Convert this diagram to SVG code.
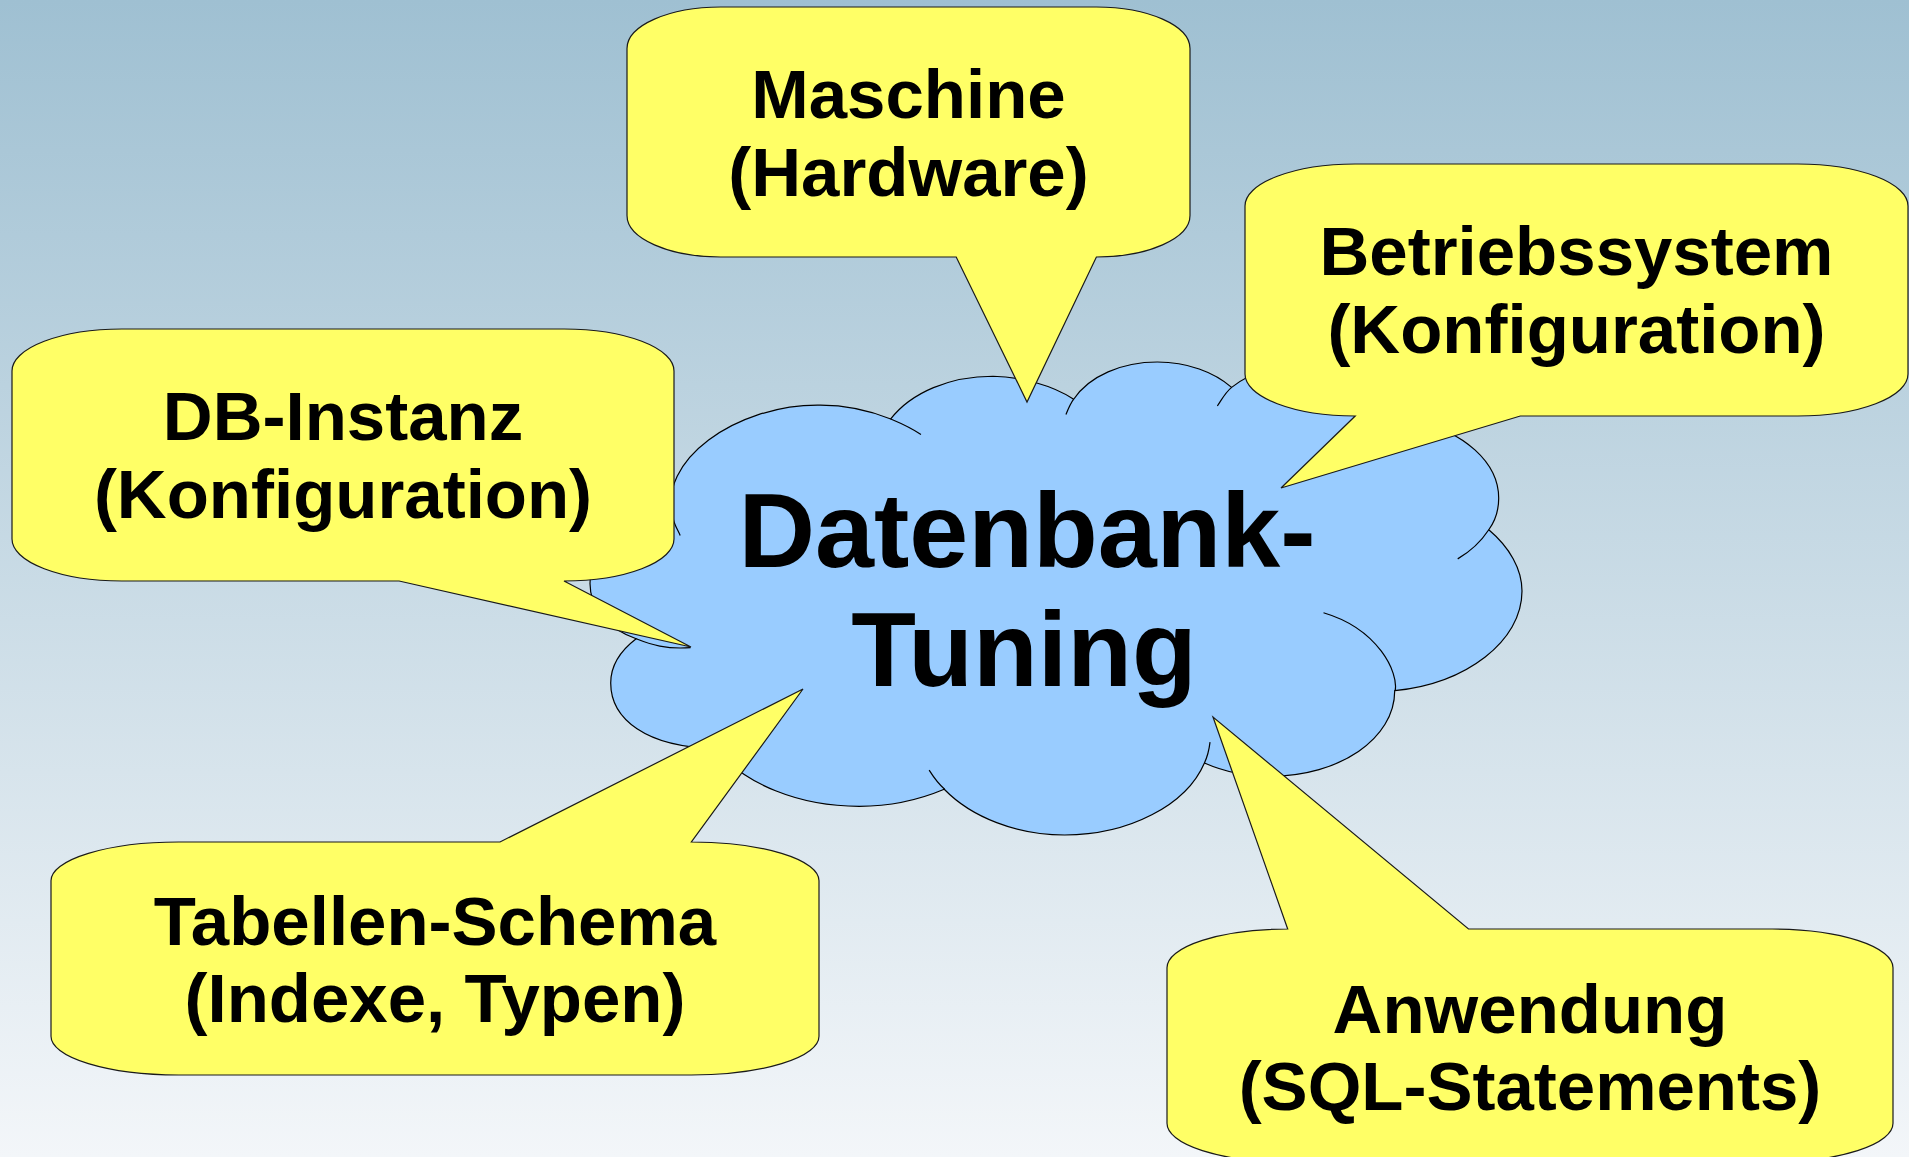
<svg xmlns="http://www.w3.org/2000/svg" width="1909" height="1157" viewBox="0 0 1909 1157">
  <defs>
    <linearGradient id="bg" x1="0" y1="0" x2="0" y2="1">
      <stop offset="0" stop-color="#9fc0d2"/>
      <stop offset="1" stop-color="#f3f6f9"/>
    </linearGradient>
    <style>
      .callout { fill: #ffff66; stroke: #1a1a1a; stroke-width: 1.2; stroke-linejoin: miter; }
      .cloud { fill: #99ccff; stroke: #000; stroke-width: 1.2; vector-effect: non-scaling-stroke; }
      .inner { fill: none; stroke: #000; stroke-width: 1.2; vector-effect: non-scaling-stroke; }
      .lbl { font-family: "Liberation Sans", Arial, sans-serif; font-weight: bold; font-size: 69px; fill: #000; text-anchor: middle; }
      .big { font-family: "Liberation Sans", Arial, sans-serif; font-weight: bold; font-size: 106px; fill: #000; text-anchor: middle; }
    </style>
  </defs>
  <rect x="0" y="0" width="1909" height="1157" fill="url(#bg)"/>

  <g id="cloud">
    <g transform="translate(590,362) scale(0.0431481,0.0218981)">
      <path class="cloud" d="M1930,7160 C1530,4490 3400,1970 5270,1970 C5860,1950 6470,2210 6970,2600 C7450,1390 8340,650 9340,650 C10004,690 10710,1050 11210,1700 C11570,630 12330,0 13150,0 C13840,0 14470,460 14870,1160 C15330,440 16020,0 16740,0 C17910,0 18900,1130 19110,2710 C20240,3150 21060,4580 21060,6220 C21060,6720 21000,7200 20830,7660 C21310,8460 21600,9450 21600,10460 C21600,12750 20310,14680 18650,15010 C18650,17200 17370,18920 15770,18920 C15220,18920 14700,18710 14240,18310 C13820,20240 12490,21600 11000,21600 C9890,21600 8840,20790 8210,19510 C7620,20000 6960,20290 6240,20290 C4850,20290 3570,19280 2900,17640 C1300,17600 480,16300 480,14660 C480,13900 690,13210 1070,12640 C380,12160 0,11210 0,10120 C0,8590 840,7330 1930,7160 Z"/>
      <path class="inner" d="M1930,7160 C1950,7410 2040,7690 2090,7920 M6970,2600 C7200,2790 7480,3050 7670,3310 M11210,1700 C11130,1910 11080,2160 11030,2400 M14870,1160 C14720,1400 14640,1720 14540,2010 M19110,2710 C19130,2890 19230,3290 19190,3380 M20830,7660 C20660,8170 20430,8620 20110,8990 M18660,15010 C18740,14200 18280,12200 17000,11450 M14240,18310 C14320,17980 14350,17680 14370,17360 M8220,19510 C8060,19250 7960,18950 7860,18640 M2900,17640 C3090,17600 3280,17540 3460,17450 M1070,12640 C1400,12900 1780,13130 2330,13040"/>
    </g>
    <text class="big" x="1027" y="567">Datenbank-</text>
    <text class="big" x="1024" y="686">Tuning</text>
  </g>

  <g id="connectors"></g>

  <g id="maschine">
    <path class="callout" d="M720.6,7 H1096.4 A93.6 41.5 0 0 1 1190,48.5 V215.5 A93.6 41.5 0 0 1 1096.4,257 L1027,402 L956.2,257 H720.6 A93.6 41.5 0 0 1 627,215.5 V48.5 A93.6 41.5 0 0 1 720.6,7 Z"/>
    <text class="lbl" x="908.5" y="118">Maschine</text>
    <text class="lbl" x="908.5" y="196">(Hardware)</text>
  </g>

  <g id="betriebssystem">
    <path class="callout" d="M1355.2,164 H1797.8 A110.2 41.9 0 0 1 1908,205.9 V374.1 A110.2 41.9 0 0 1 1797.8,416 H1520.3 L1281,488 L1355.2,416 A110.2 41.9 0 0 1 1245,374.1 V205.9 A110.2 41.9 0 0 1 1355.2,164 Z"/>
    <text class="lbl" x="1576.5" y="275">Betriebssystem</text>
    <text class="lbl" x="1576.5" y="353">(Konfiguration)</text>
  </g>

  <g id="db-instanz">
    <path class="callout" d="M122,329 H564 A110 41.9 0 0 1 674,370.9 V539.1 A110 41.9 0 0 1 564,581 L691,647 L399.1,581 H122 A110 41.9 0 0 1 12,539.1 V370.9 A110 41.9 0 0 1 122,329 Z"/>
    <text class="lbl" x="343" y="440">DB-Instanz</text>
    <text class="lbl" x="343" y="518">(Konfiguration)</text>
  </g>

  <g id="tabellen-schema">
    <path class="callout" d="M178.6,842 H500 L803,689 L691.4,842 A127.6 38.7 0 0 1 819,880.7 V1036.3 A127.6 38.7 0 0 1 691.4,1075 H178.6 A127.6 38.7 0 0 1 51,1036.3 V880.7 A127.6 38.7 0 0 1 178.6,842 Z"/>
    <text class="lbl" x="435" y="945">Tabellen-Schema</text>
    <text class="lbl" x="435" y="1022">(Indexe, Typen)</text>
  </g>

  <g id="anwendung">
    <path class="callout" d="M1287.7,929 L1213,717 L1468.5,929 H1772.3 A120.7 38.7 0 0 1 1893,967.7 V1123.3 A120.7 38.7 0 0 1 1772.3,1162 H1287.7 A120.7 38.7 0 0 1 1167,1123.3 V967.7 A120.7 38.7 0 0 1 1287.7,929 Z"/>
    <text class="lbl" x="1530" y="1033">Anwendung</text>
    <text class="lbl" x="1530" y="1110">(SQL-Statements)</text>
  </g>
</svg>
